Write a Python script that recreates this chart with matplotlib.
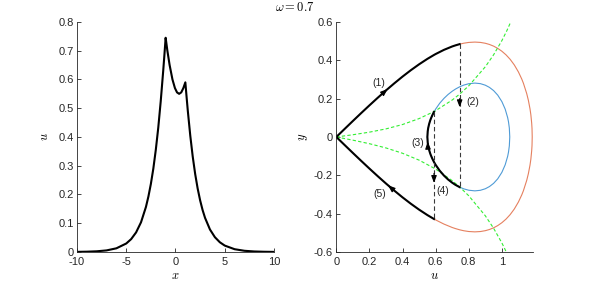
import numpy as np
import matplotlib
matplotlib.use('Agg')
import matplotlib.pyplot as plt

plt.rcParams['font.family'] = ['Liberation Sans', 'DejaVu Sans']
plt.rcParams['mathtext.fontset'] = 'cm'
plt.rcParams['axes.unicode_minus'] = False

# left panel: profile u(x)
x_prof = [-10, -9, -8, -7, -6, -5, -4.5, -4, -3.5, -3, -2.75, -2.5, -2.25, -2,
          -1.75, -1.5, -1.25, -1.125, -1, -0.9, -0.824, -0.596, -0.308, -0.057,
          0.156, 0.37, 0.584, 0.797, 1, 1.125, 1.25, 1.5, 1.75, 2, 2.25, 2.5,
          2.75, 3, 3.5, 4, 4.5, 5, 6, 7, 8, 9, 10]
u_prof = [0.00045, 0.00104, 0.0024, 0.0055, 0.0128, 0.0295, 0.0448, 0.0681,
          0.1033, 0.1567, 0.1928, 0.2367, 0.290, 0.355, 0.432, 0.524, 0.6286,
          0.6854, 0.745, 0.7195, 0.700, 0.650, 0.600, 0.570, 0.555, 0.550,
          0.555, 0.570, 0.590, 0.5394, 0.491, 0.4047, 0.3316, 0.2708, 0.2208,
          0.1797, 0.146, 0.1187, 0.0782, 0.0515, 0.0339, 0.0223, 0.0097,
          0.0042, 0.0018, 0.00079, 0.00034]

# right panel: homoclinic orbit (upper half)
u_hom = [0, 0.05, 0.1, 0.15, 0.2, 0.25, 0.3, 0.35, 0.4, 0.45, 0.5, 0.55, 0.59,
         0.6, 0.65, 0.7, 0.72, 0.745, 0.77, 0.8, 0.837, 0.87, 0.9, 0.925, 0.95,
         0.975, 1.0, 1.025, 1.05, 1.075, 1.1, 1.12, 1.13, 1.15, 1.16, 1.17,
         1.175, 1.18, 1.182, 1.18322]
y_hom = [0, 0.0418, 0.0834, 0.1245, 0.1649, 0.2044, 0.2428, 0.2797, 0.315,
         0.3482, 0.3791, 0.4074, 0.4279, 0.4327, 0.4544, 0.4722, 0.478,
         0.48425, 0.4892, 0.4932, 0.495, 0.4933, 0.4888, 0.4826, 0.4738,
         0.4622, 0.4472, 0.4284, 0.405, 0.3758, 0.339, 0.3022, 0.2804, 0.2263,
         0.1913, 0.1459, 0.1158, 0.072, 0.045, 0]

# inner orbit (upper half)
u_in = [0.55, 0.552, 0.555, 0.56, 0.565, 0.57, 0.58, 0.59, 0.6, 0.625, 0.65,
        0.675, 0.7, 0.72, 0.745, 0.77, 0.8, 0.837, 0.87, 0.9, 0.925, 0.95,
        0.975, 1.0, 1.02, 1.035, 1.04, 1.045, 1.04761]
y_in = [0, 0.0295, 0.0467, 0.066, 0.0807, 0.0933, 0.1136, 0.1307, 0.1456,
        0.1765, 0.2012, 0.2217, 0.2386, 0.25, 0.2617, 0.2707, 0.2778, 0.2811,
        0.2782, 0.2701, 0.2586, 0.2419, 0.2182, 0.1844, 0.1451, 0.1005,
        0.0787, 0.0465, 0]

# jump loci (green dashed)
u_gup = [0, 0.1, 0.2, 0.3, 0.4, 0.5, 0.59, 0.6, 0.7, 0.745, 0.8, 0.9, 0.95,
         1.0, 1.03, 1.06]
y_gup = [0, 0.0116, 0.0251, 0.0422, 0.065, 0.0959, 0.1326, 0.1373, 0.1928,
         0.2235, 0.2668, 0.3662, 0.4287, 0.5028, 0.5544, 0.6129]
u_glo = [0, 0.1, 0.2, 0.3, 0.4, 0.5, 0.6, 0.7, 0.745, 0.8, 0.9, 0.95, 1.0, 1.03]
y_glo = [0, -0.0166, -0.0351, -0.0572, -0.085, -0.1209, -0.1673, -0.2278,
         -0.2608, -0.3068, -0.4112, -0.4762, -0.5528, -0.6059]

# jumps at the two deltas
jump_u = [0.745, 0.59]
jump_from = [0.48425, 0.1307]
jump_to = [-0.2617, -0.4279]

ORANGE = '#e5805f'
BLUE = '#4f9bd6'
GREEN = '#33ee33'
GREY = '#262626'


def style_axes(ax):
    for s in ['top', 'right']:
        ax.spines[s].set_visible(False)
    for s in ['left', 'bottom']:
        ax.spines[s].set_color(GREY)
        ax.spines[s].set_linewidth(0.6)
    ax.tick_params(direction='in', length=3, width=0.6, colors=GREY,
                   labelsize=8)
    ax.tick_params(axis='x', pad=3.5)
    ax.tick_params(axis='y', pad=2.5)


fig = plt.figure(figsize=(5.89, 2.84), dpi=100)

# ---- left: profile
ax1 = fig.add_axes([0.1307, 0.1127, 0.3345, 0.81])
ax1.plot(x_prof, u_prof, color='k', lw=1.5)
ax1.set_xlim(-10, 10)
ax1.set_ylim(0, 0.8)
ax1.set_xticks([-10, -5, 0, 5, 10])
ax1.set_yticks(np.arange(0, 0.81, 0.1))
ax1.set_yticklabels(['%g' % round(t, 1) for t in np.arange(0, 0.81, 0.1)])
ax1.set_xlabel('$x$', fontsize=9, labelpad=2)
ax1.set_ylabel('$u$', fontsize=9, labelpad=5)
style_axes(ax1)

# ---- right: phase plane
ax2 = fig.add_axes([0.571, 0.1127, 0.3345, 0.81])
uh = np.array(u_hom)
yh = np.array(y_hom)
ui = np.array(u_in)
yi = np.array(y_in)

# outer (orange) continuation of the homoclinic orbit
up = uh >= jump_u[0]
lo = uh >= jump_u[1]
ax2.plot(np.r_[uh[up], uh[lo][::-1]], np.r_[yh[up], -yh[lo][::-1]],
         color=ORANGE, lw=0.8)
# inner orbit (blue), closed
ax2.plot(np.r_[ui, ui[::-1]], np.r_[yi, -yi[::-1]], color=BLUE, lw=0.8)
# green loci
ax2.plot(u_gup, y_gup, color=GREEN, lw=0.8, ls=(0, (3, 2)))
ax2.plot(u_glo, y_glo, color=GREEN, lw=0.8, ls=(0, (3, 2)))

# path (1): origin -> first peak
m1 = uh <= jump_u[0]
ax2.plot(uh[m1], yh[m1], color='k', lw=1.5)
# path (5): second delta -> origin
m5 = uh <= jump_u[1]
ax2.plot(uh[m5], -yh[m5], color='k', lw=1.5)
# path (3): along the inner orbit between the deltas
m3a = ui <= jump_u[0]
m3b = ui <= jump_u[1]
ax2.plot(np.r_[ui[m3a][::-1], ui[m3b][1:]], np.r_[-yi[m3a][::-1], yi[m3b][1:]],
         color='k', lw=1.5)
# jumps (2) and (4)
for uj, y0, y1 in zip(jump_u, jump_from, jump_to):
    ax2.plot([uj, uj], [y0, y1], color='#3a3a3a', lw=0.8, ls=(0, (4, 2.5)))

ap = dict(arrowstyle='-|>,head_length=0.42,head_width=0.16', color='k',
          lw=0.8, shrinkA=0, shrinkB=0)
arrows = [((0.285, 0.2314), (0.31, 0.2503)),
          ((0.745, 0.20), (0.745, 0.155)),
          ((0.5535, -0.06), (0.5515, -0.025)),
          ((0.59, -0.19), (0.59, -0.24)),
          ((0.34, -0.2725), (0.312, -0.2518))]
for tail, tip in arrows:
    ax2.annotate('', xy=tip, xytext=tail, arrowprops=ap)

labels = [('(1)', 0.254, 0.283), ('(2)', 0.823, 0.184), ('(3)', 0.489, -0.032),
          ('(4)', 0.644, -0.284), ('(5)', 0.26, -0.296)]
for txt, lx, ly in labels:
    ax2.text(lx, ly, txt, fontsize=7.5, ha='center', va='center', color=GREY)

ax2.set_xlim(0, 1.19)
ax2.set_ylim(-0.6, 0.6)
ax2.set_xticks([0, 0.2, 0.4, 0.6, 0.8, 1])
ax2.set_xticklabels(['0', '0.2', '0.4', '0.6', '0.8', '1'])
ax2.set_yticks([-0.6, -0.4, -0.2, 0, 0.2, 0.4, 0.6])
ax2.set_yticklabels(['-0.6', '-0.4', '-0.2', '0', '0.2', '0.4', '0.6'])
ax2.set_xlabel('$u$', fontsize=9, labelpad=2)
ax2.set_ylabel('$y$', fontsize=9, labelpad=3)
style_axes(ax2)

fig.text(0.5, 0.972, r'$\omega = 0.7$', fontsize=9, ha='center', va='center')

fig.savefig('out.png', dpi=100)
